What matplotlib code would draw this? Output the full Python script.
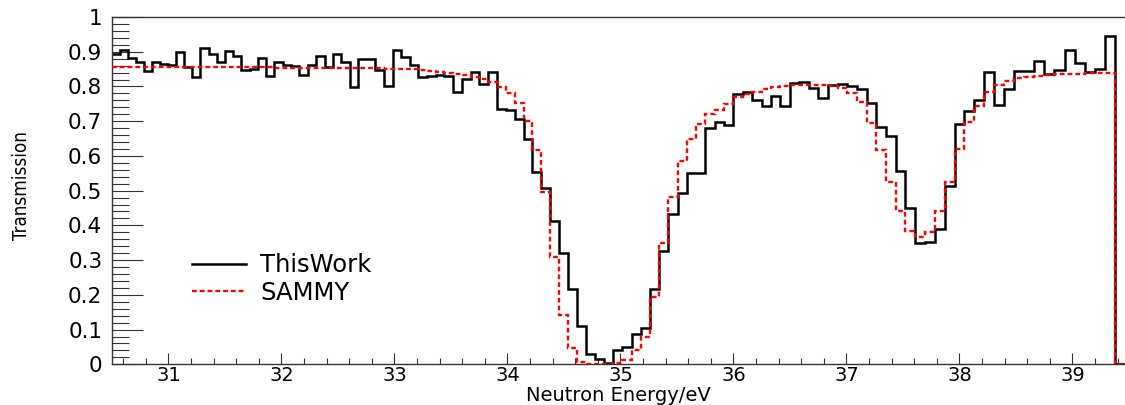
import numpy as np
import matplotlib
matplotlib.use("Agg")
import matplotlib.pyplot as plt
from matplotlib.lines import Line2D
from matplotlib.ticker import FixedLocator, MultipleLocator

# energy binning: equal steps in log(E); the last bin is an empty one past the data
e_min, e_max, n_bins = 30.5, 39.471, 112
bin_edges = np.geomspace(e_min, e_max, n_bins + 1)

# measured transmission per bin
this_work = [
    0.893, 0.905, 0.881, 0.869, 0.845, 0.869, 0.864, 0.862, 0.900, 0.855,
    0.827, 0.910, 0.893, 0.869, 0.903, 0.888, 0.846, 0.850, 0.881, 0.831,
    0.869, 0.862, 0.860, 0.833, 0.862, 0.887, 0.855, 0.894, 0.870, 0.798,
    0.880, 0.880, 0.847, 0.801, 0.905, 0.886, 0.862, 0.826, 0.829, 0.832,
    0.829, 0.785, 0.822, 0.842, 0.806, 0.842, 0.736, 0.733, 0.707, 0.649,
    0.555, 0.507, 0.414, 0.320, 0.218, 0.110, 0.029, 0.014, 0.003, 0.041,
    0.050, 0.087, 0.104, 0.216, 0.327, 0.432, 0.494, 0.551, 0.550, 0.681,
    0.697, 0.689, 0.778, 0.784, 0.762, 0.743, 0.773, 0.743, 0.809, 0.812,
    0.796, 0.767, 0.805, 0.806, 0.801, 0.793, 0.752, 0.684, 0.657, 0.558,
    0.451, 0.350, 0.353, 0.390, 0.514, 0.692, 0.729, 0.761, 0.841, 0.747,
    0.793, 0.845, 0.845, 0.874, 0.836, 0.847, 0.905, 0.867, 0.841, 0.850,
    0.946, 0.0,
]

# SAMMY fit on the same bins
sammy = [
    0.855, 0.855, 0.855, 0.855, 0.855, 0.855, 0.855, 0.855, 0.855, 0.855,
    0.855, 0.855, 0.855, 0.855, 0.855, 0.855, 0.855, 0.855, 0.855, 0.855,
    0.854, 0.854, 0.854, 0.854, 0.854, 0.854, 0.854, 0.854, 0.854, 0.854,
    0.853, 0.852, 0.852, 0.851, 0.850, 0.850, 0.849, 0.847, 0.845, 0.843,
    0.840, 0.837, 0.833, 0.828, 0.821, 0.813, 0.798, 0.781, 0.752, 0.701,
    0.617, 0.497, 0.310, 0.142, 0.046, 0.008, 0.002, 0.000, 0.000, 0.003,
    0.012, 0.040, 0.078, 0.195, 0.348, 0.483, 0.586, 0.650, 0.692, 0.720,
    0.733, 0.750, 0.769, 0.779, 0.785, 0.793, 0.799, 0.802, 0.804, 0.805,
    0.805, 0.804, 0.801, 0.795, 0.780, 0.755, 0.694, 0.617, 0.526, 0.440,
    0.385, 0.367, 0.380, 0.442, 0.526, 0.619, 0.697, 0.745, 0.785, 0.805,
    0.815, 0.823, 0.828, 0.830, 0.833, 0.835, 0.835, 0.837, 0.838, 0.838,
    0.840, 0.0,
]

x_ticks = [31, 32, 33, 34, 35, 36, 37, 38, 39]
x_tick_labels = [str(t) for t in x_ticks]
y_ticks = [0, 0.1, 0.2, 0.3, 0.4, 0.5, 0.6, 0.7, 0.8, 0.9, 1.0]
y_tick_labels = ["0", "0.1", "0.2", "0.3", "0.4", "0.5", "0.6", "0.7", "0.8", "0.9", "1"]

plt.rcParams["font.family"] = ["DejaVu Sans"]

fig = plt.figure(figsize=(11.25, 4.05), dpi=100)
ax = fig.add_axes([112 / 1125, 1 - 364.3 / 405, (1125.7 - 112) / 1125, (364.3 - 17) / 405])

# outline only, no end caps; the empty last bin gives the drop at the end of the data
dotted = (0, (2, 1.3))
ax.stairs(this_work, bin_edges, baseline=None, color="black", lw=1.8, zorder=2)
ax.stairs(sammy, bin_edges, baseline=None, color="red", lw=1.7, linestyle=dotted, zorder=3)

ax.set_xlim(e_min, e_max)
ax.set_ylim(0, 1)

for side in ["left", "bottom", "top"]:
    ax.spines[side].set_color("#333333")
    ax.spines[side].set_linewidth(1.0)
ax.spines["right"].set_visible(False)

ax.xaxis.set_major_locator(FixedLocator(x_ticks))
ax.set_xticklabels(x_tick_labels)
ax.xaxis.set_minor_locator(MultipleLocator(0.2))
ax.yaxis.set_major_locator(FixedLocator(y_ticks))
ax.set_yticklabels(y_tick_labels)
ax.yaxis.set_minor_locator(MultipleLocator(0.02))

ax.tick_params(axis="both", which="both", direction="in", color="#333333",
               width=0.8, top=False, right=False)
ax.tick_params(axis="y", which="major", length=22, pad=7, labelsize=15.5)
ax.tick_params(axis="y", which="minor", length=12)
ax.tick_params(axis="x", which="major", length=8, pad=1.5, labelsize=14)
ax.tick_params(axis="x", which="minor", length=4.3)

ax.set_xlabel("Neutron Energy/eV", fontsize=14)
ax.xaxis.set_label_coords(0.5, -0.0612)
ax.set_ylabel("Transmission", fontsize=13.5, family=["DejaVu Sans"], stretch="condensed")
ax.yaxis.set_label_coords(-0.08, 0.516)

handles = [
    Line2D([], [], color="black", lw=1.8),
    Line2D([], [], color="red", lw=1.7, linestyle=dotted),
]
ax.legend(handles, ["ThisWork", "SAMMY"], loc="upper left",
          bbox_to_anchor=(0.079, 0.32), frameon=False, fontsize=17.5,
          handlelength=2.2, handletextpad=0.6, labelspacing=0.15,
          borderpad=0, borderaxespad=0)

fig.savefig("out.png", dpi=100)
